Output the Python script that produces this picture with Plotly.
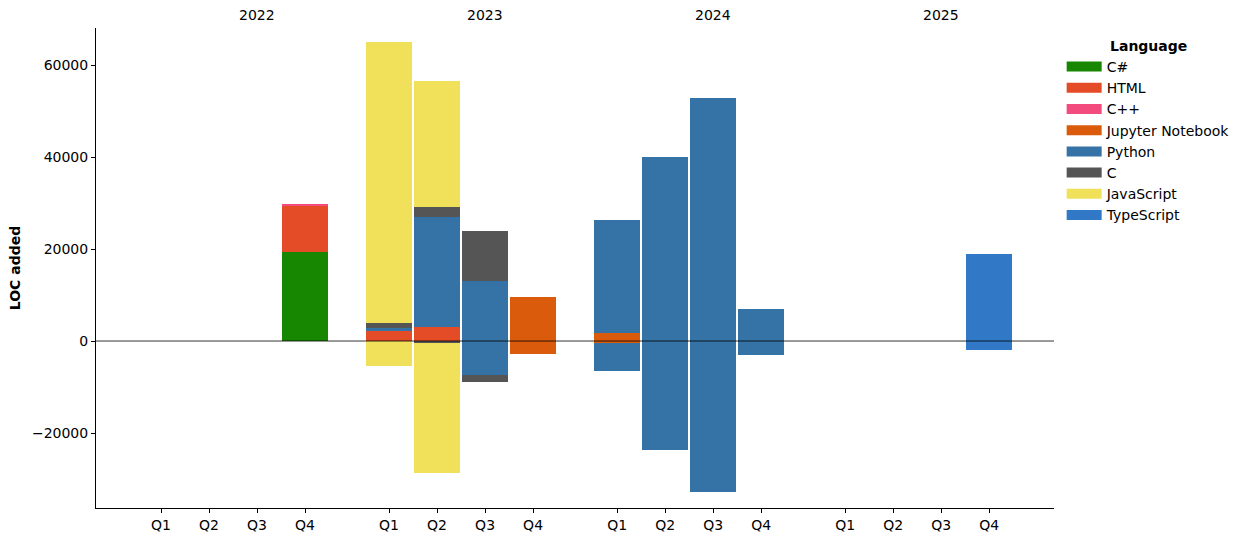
import plotly.graph_objects as go

years = ["2022", "2023", "2024", "2025"]
quarters = ["Q1", "Q2", "Q3", "Q4"]

languages = ["C#", "HTML", "C++", "Jupyter Notebook", "Python", "C", "JavaScript", "TypeScript"]
colors = ["#178600", "#e34c26", "#f34b7d", "#da5b0b", "#3572a5", "#555555", "#f1e05a", "#3178c6"]

# 16 quarters: 2022 Q1..Q4, 2023 Q1..Q4, 2024 Q1..Q4, 2025 Q1..Q4
csharp_added =   [0, 0, 0, 19400,   0, 0, 0, 0,   0, 0, 0, 0,   0, 0, 0, 0]
csharp_removed = [0, 0, 0, 0,       0, 0, 0, 0,   0, 0, 0, 0,   0, 0, 0, 0]
html_added =     [0, 0, 0, 10000,   2100, 2950, 0, 0,   0, 0, 0, 0,   0, 0, 0, 0]
html_removed =   [0, 0, 0, 0,       0, 0, 0, 0,   0, 0, 0, 0,   0, 0, 0, 0]
cpp_added =      [0, 0, 0, 400,     0, 0, 0, 0,   0, 0, 0, 0,   0, 0, 0, 0]
cpp_removed =    [0, 0, 0, 0,       0, 0, 0, 0,   0, 0, 0, 0,   0, 0, 0, 0]
jupyter_added =  [0, 0, 0, 0,       0, 0, 0, 9600,   1650, 0, 0, 0,   0, 0, 0, 0]
jupyter_removed =[0, 0, 0, 0,       0, 0, 0, -2900,  -520, 0, 0, 0,   0, 0, 0, 0]
python_added =   [0, 0, 0, 0,       800, 24050, 13100, 0,   24700, 40000, 52800, 7000,   0, 0, 0, 0]
python_removed = [0, 0, 0, 0,       0, 0, -7400, 0,   -6100, -23600, -32900, -2950,   0, 0, 0, 0]
c_added =        [0, 0, 0, 0,       1100, 2200, 10900, 0,   0, 0, 0, 0,   0, 0, 0, 0]
c_removed =      [0, 0, 0, 0,       0, -370, -1600, 0,   0, 0, 0, 0,   0, 0, 0, 0]
js_added =       [0, 0, 0, 0,       60900, 27400, 0, 0,   0, 0, 0, 0,   0, 0, 0, 0]
js_removed =     [0, 0, 0, 0,       -5400, -28400, 0, 0,   0, 0, 0, 0,   0, 0, 0, 0]
ts_added =       [0, 0, 0, 0,       0, 0, 0, 0,   0, 0, 0, 0,   0, 0, 0, 19000]
ts_removed =     [0, 0, 0, 0,       0, 0, 0, 0,   0, 0, 0, 0,   0, 0, 0, -1850]

added = [csharp_added, html_added, cpp_added, jupyter_added, python_added, c_added, js_added, ts_added]
removed = [csharp_removed, html_removed, cpp_removed, jupyter_removed, python_removed, c_removed, js_removed, ts_removed]

y_ticks = [-20000, 0, 20000, 40000, 60000]

GROUP_STEP = 4.75
xpos = [yi * GROUP_STEP + qi for yi in range(len(years)) for qi in range(len(quarters))]
xlabels = [q for _ in years for q in quarters]

FONT = "DejaVu Sans"
FS = 14
fig = go.Figure()
for lang, col, a, r in zip(languages, colors, added, removed):
    fig.add_trace(go.Bar(x=xpos, y=a, name=lang, marker=dict(color=col, line=dict(width=0)),
                         width=0.95, legendgroup=lang, showlegend=False))
    fig.add_trace(go.Bar(x=xpos, y=r, name=lang, marker=dict(color=col, line=dict(width=0)),
                         width=0.95, legendgroup=lang, showlegend=False))
# legend-only entries drawn as wide rectangular swatches
for lang, col in zip(languages, colors):
    fig.add_trace(go.Scatter(x=[None], y=[None], mode="lines", name=lang,
                             line=dict(color=col, width=10), legendgroup=lang, showlegend=True))

for yi, yr in enumerate(years):
    fig.add_annotation(x=yi * GROUP_STEP + 2, y=1, xref="x", yref="paper", text=yr,
                       showarrow=False, yanchor="bottom", yshift=3,
                       font=dict(family=FONT, size=FS, color="black"))

fig.add_shape(type="line", xref="paper", x0=0, x1=1, yref="y", y0=0, y1=0,
              line=dict(color="black", width=0.8), layer="above")

fig.update_layout(
    width=1242, height=542,
    margin=dict(l=96, r=188, t=28, b=34, autoexpand=False),
    barmode="relative", bargap=0,
    plot_bgcolor="white", paper_bgcolor="white",
    font=dict(family=FONT, size=FS, color="black"),
    legend=dict(x=1.008, y=0.99, xanchor="left", yanchor="top",
                title=dict(text="<b>Language</b>", font=dict(family=FONT, size=FS), side="top center"),
                font=dict(family=FONT, size=FS), traceorder="normal",
                tracegroupgap=0, itemsizing="trace", itemwidth=35),
    xaxis=dict(range=[-1.354, 18.6], tickvals=xpos, ticktext=xlabels, automargin=False,
               showline=True, linecolor="black", linewidth=1, ticks="outside",
               ticklen=4, tickcolor="black", showgrid=False, zeroline=False),
    yaxis=dict(range=[-36300, 68050], tickvals=y_ticks,
               ticktext=[("\u2212" + str(-v)) if v < 0 else str(v) for v in y_ticks],
               showline=True, linecolor="black", linewidth=1, ticks="outside",
               ticklen=4, tickcolor="black", showgrid=False, zeroline=False,
               title=dict(text="<b>LOC added</b>", font=dict(family=FONT, size=FS), standoff=8)),
)

fig.write_html("out.html", config={"displayModeBar": False},
               post_script="document.body.style.margin='0';")
